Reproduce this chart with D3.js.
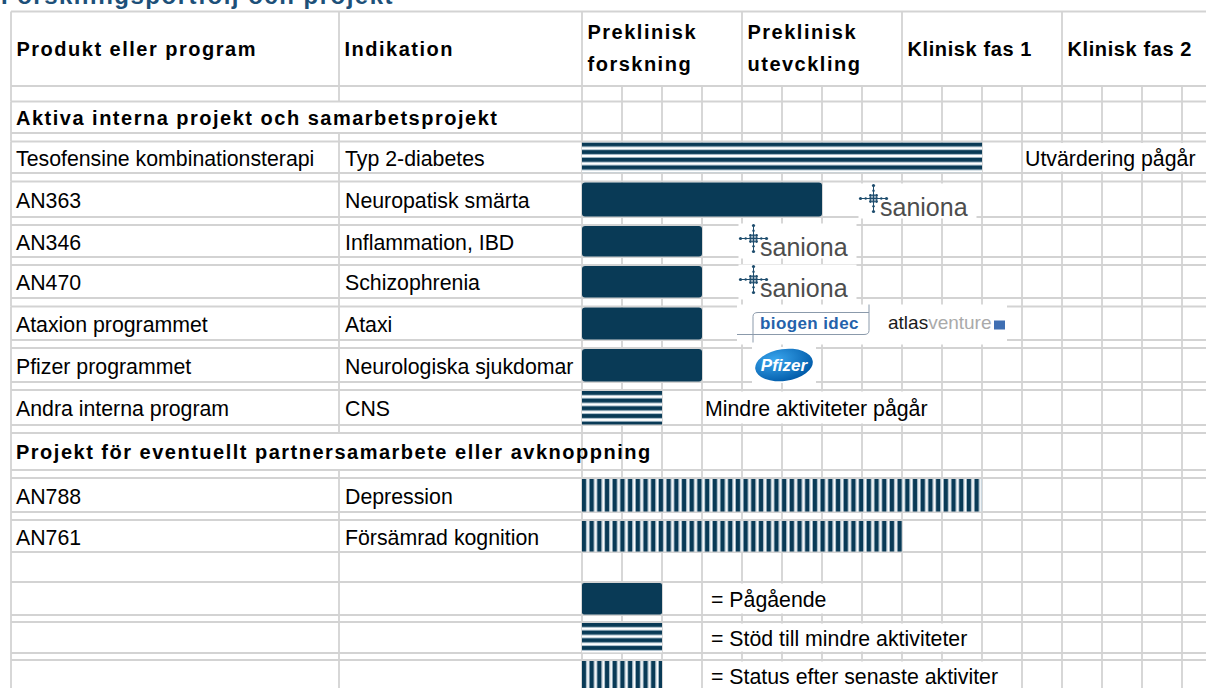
<!DOCTYPE html>
<html>
<head>
<meta charset="utf-8">
<script src="https://cdn.jsdelivr.net/npm/d3@7"></script>
<style>
  body { margin: 0; background: #fff; overflow: hidden; }
  text { font-family: "Liberation Sans", Arial, sans-serif; }
</style>
</head>
<body>
<div id="chart"></div>
<script>
// ---- data ----
const title = "Forskningsportfölj och projekt";
const colHeaders = ["Produkt eller program", "Indikation"];
const phaseLabels = [["Preklinisk", "forskning"], ["Preklinisk", "utevckling"], ["Klinisk fas 1"], ["Klinisk fas 2"]];
const sectionTitles = ["Aktiva interna projekt och samarbetsprojekt",
                       "Projekt för eventuellt partnersamarbete eller avknoppning"];
const products = ["Tesofensine kombinationsterapi", "AN363", "AN346", "AN470", "Ataxion programmet",
                  "Pfizer programmet", "Andra interna program", "AN788", "AN761"];
const indications = ["Typ 2-diabetes", "Neuropatisk smärta", "Inflammation, IBD", "Schizophrenia", "Ataxi",
                     "Neurologiska sjukdomar", "CNS", "Depression", "Försämrad kognition"];
const productSection = [0, 0, 0, 0, 0, 0, 0, 1, 1];
// progress in quarter-phase steps (4 steps = one phase)
const progress = [10, 6, 3, 3, 3, 3, 2, 10, 8];
const barType = ["stod", "pagaende", "pagaende", "pagaende", "pagaende", "pagaende", "stod", "status", "status"];
const noteProducts = ["Tesofensine kombinationsterapi", "Andra interna program"];
const noteTexts = ["Utvärdering pågår", "Mindre aktiviteter pågår"];
const noteStart = [11, 3];
const partnerProducts = ["AN363", "AN346", "AN470", "Ataxion programmet", "Pfizer programmet"];
const partnerNames = ["saniona", "saniona", "saniona", "biogen", "pfizer"];
const partnerStart = [7, 4, 4, 4, 4];
const legendTypes = ["pagaende", "stod", "status"];
const legendLabels = ["=  Pågående", "=  Stöd till mindre aktiviteter", "=  Status efter senaste aktiviter"];
const legendSpan = 2;

// ---- layout ----
const W = 1206, H = 688;
const navy = "#093a56", gridCol = "#d3d3d3";
const tableTop = 11.5, col1 = 11, col2 = 339, col3 = 582;
// main row heights / spacer heights, in row order
const rowH = [74.5, 31.5, 31.5, 35.5, 32, 33, 33.5, 34, 35, 37, 34, 32, 30, 33, 31, 30];
const gapH = [15.5, 8.5, 8.5, 8, 8, 8.5, 8, 8, 8, 8, 8, 0, 0, 7, 7, 0];

// build row list
const rows = [{ id: "header", kind: "header" }];
sectionTitles.forEach((s, si) => {
  rows.push({ id: "sec" + si, kind: "section", label: s });
  products.forEach((p, i) => {
    if (productSection[i] === si) rows.push({ id: p, kind: "product", i: i });
  });
});
rows.push({ id: "blank", kind: "blank" });
legendTypes.forEach((t, i) => rows.push({ id: "legend" + i, kind: "legend", i: i }));

let acc = tableTop;
rows.forEach((r, k) => {
  r.top = acc; r.h = rowH[k]; r.gap = gapH[k];
  acc += r.h + r.gap;
});

const y = d3.scaleOrdinal().domain(rows.map(r => r.id)).range(rows.map(r => r.top));
const rowOf = id => rows.find(r => r.id === id);
const x = d3.scaleLinear().domain([0, 16]).range([col3, col3 + 640]);

const svg = d3.select("#chart").append("svg").attr("width", W).attr("height", H);
const defs = svg.append("defs");

// title (mostly cut off above the table, as in the original)
svg.append("text").attr("x", 1).attr("y", 4)
  .style("font-size", "24px").style("font-weight", "bold").style("letter-spacing", "1.5px")
  .attr("fill", "#1d5079").text(title);

// ---- grid ----
const grid = svg.append("g").attr("stroke", gridCol).attr("stroke-width", 1.8);
const ticks = d3.range(0, 17);
rows.forEach(r => {
  const segs = [{ y0: r.top, y1: r.top + r.h + (r.id === "legend2" ? 10 : 0), main: true }];
  if (r.gap > 0) segs.push({ y0: r.top + r.h, y1: r.top + r.h + r.gap, main: false });
  segs.forEach(s => {
    const xs = [col1];
    if (!(s.main && r.kind === "section")) xs.push(col2);
    ticks.forEach(k => {
      if (s.main && r.kind === "header" && k % 4 !== 0) return;
      xs.push(x(k));
    });
    grid.selectAll(null).data(xs).enter().append("line")
      .attr("x1", d => d).attr("x2", d => d).attr("y1", s.y0).attr("y2", s.y1);
  });
});
const hLines = [tableTop];
rows.forEach(r => {
  if (r.id === "legend2") return;
  hLines.push(r.top + r.h);
  if (r.gap > 0) hLines.push(r.top + r.h + r.gap);
});
grid.selectAll(null).data(hLines).enter().append("line")
  .attr("x1", col1).attr("x2", W).attr("y1", d => d).attr("y2", d => d);

// ---- patterns ----
function fillFor(type, r, key) {
  if (type === "pagaende") return navy;
  const id = "pat-" + key;
  const p = defs.append("pattern").attr("id", id).attr("patternUnits", "userSpaceOnUse");
  if (type === "stod") {
    p.attr("x", 0).attr("y", r.top + 1).attr("width", 20).attr("height", 7.7);
    p.append("rect").attr("width", 20).attr("height", 7.7).attr("fill", "#fff");
    p.append("rect").attr("width", 20).attr("height", 3.8).attr("fill", navy);
    p.append("rect").attr("y", 3.8).attr("width", 20).attr("height", 0.9).attr("fill", "#9db4c3");
    p.append("rect").attr("y", 6.8).attr("width", 20).attr("height", 0.9).attr("fill", "#9db4c3");
  } else {
    p.attr("x", x(0)).attr("y", 0).attr("width", 7.7).attr("height", 20);
    p.append("rect").attr("width", 7.7).attr("height", 20).attr("fill", "#fff");
    p.append("rect").attr("width", 4.2).attr("height", 20).attr("fill", navy);
    p.append("rect").attr("x", 4.2).attr("width", 0.9).attr("height", 20).attr("fill", "#9db4c3");
    p.append("rect").attr("x", 6.8).attr("width", 0.9).attr("height", 20).attr("fill", "#9db4c3");
  }
  return "url(#" + id + ")";
}

// ---- bars ----
const barG = svg.append("g");
products.forEach((p, i) => {
  const r = rowOf(p);
  barG.append("rect")
    .attr("x", x(0)).attr("y", y(p) + 1)
    .attr("width", x(progress[i]) - x(0)).attr("height", r.h - 1.5)
    .attr("rx", barType[i] === "pagaende" ? 3 : 0)
    .attr("fill", fillFor(barType[i], r, "p" + i));
});
legendTypes.forEach((t, i) => {
  const r = rowOf("legend" + i);
  barG.append("rect")
    .attr("x", x(0)).attr("y", r.top + 1)
    .attr("width", x(legendSpan) - x(0)).attr("height", i === 2 ? H - r.top : r.h - 1.5)
    .attr("rx", t === "pagaende" ? 2 : 0)
    .attr("fill", fillFor(t, r, "l" + i));
});

// ---- text ----
const txt = svg.append("g").attr("fill", "#000");
const boldStyle = s => s.style("font-size", "20px").style("font-weight", "bold").style("letter-spacing", "1.5px");
const regStyle = s => s.style("font-size", "21.3px");
const base = r => r.top + r.h / 2 + 8.5;

const hdr = rowOf("header");
colHeaders.forEach((c, i) => {
  txt.append("text").attr("x", [col1, col2][i] + 5.5).attr("y", hdr.top + hdr.h / 2 + 7)
    .call(boldStyle).text(c);
});
phaseLabels.forEach((lines, i) => {
  const t = txt.append("text").attr("x", x(i * 4) + 5.5).call(boldStyle);
  if (lines.length === 1) {
    t.attr("y", hdr.top + hdr.h / 2 + 7).style("letter-spacing", "0.6px").text(lines[0]);
  } else {
    lines.forEach((l, j) => t.append("tspan").attr("x", x(i * 4) + 5.5)
      .attr("y", hdr.top + 27.5 + j * 32).text(l));
  }
});
rows.filter(r => r.kind === "section").forEach(r => {
  txt.append("text").attr("x", col1 + 5).attr("y", base(r) - 1).call(boldStyle).text(r.label);
});
products.forEach((p, i) => {
  const r = rowOf(p);
  txt.append("text").attr("x", col1 + 5).attr("y", base(r)).call(regStyle).text(p);
  txt.append("text").attr("x", col2 + 6).attr("y", base(r)).call(regStyle).text(indications[i]);
});

// notes with white cell backgrounds
function boxedText(r, x0, label, pad) {
  const g = svg.append("g");
  const bg = g.append("rect").attr("fill", "#fff");
  const t = g.append("text").attr("x", x0 + pad).attr("y", base(r)).call(regStyle).text(label);
  const w = t.node().getComputedTextLength();
  bg.attr("x", x0 + 1).attr("y", r.top + 1.5).attr("width", w + pad + 5).attr("height", r.h - 3);
}
noteProducts.forEach((p, i) => boxedText(rowOf(p), x(noteStart[i]), noteTexts[i], 3));
legendLabels.forEach((l, i) => boxedText(rowOf("legend" + i), x(legendSpan + 1), l, 9));

// ---- partner logos ----
function saniona(g, x0, bl) {
  const cx = x0 - 6.5, cy = bl - 17.5;
  g.append("rect").attr("x", cx - 15).attr("y", cy - 15).attr("width", 118).attr("height", 35).attr("fill", "#fff");
  const ic = g.append("g").attr("fill", "#1e4d6e").attr("stroke", "#1e4d6e");
  [[-13, 0], [13, 0], [0, -13], [0, 13]].forEach(([dx, dy]) => {
    ic.append("line").attr("x1", cx).attr("y1", cy).attr("x2", cx + dx).attr("y2", cy + dy).attr("stroke-width", 1);
    ic.append("circle").attr("cx", cx + dx).attr("cy", cy + dy).attr("r", 1.6).attr("stroke", "none");
    ic.append("circle").attr("cx", cx + dx * 0.6).attr("cy", cy + dy * 0.6).attr("r", 1.2).attr("stroke", "none");
  });
  d3.range(-1, 2).forEach(a => d3.range(-1, 2).forEach(b => {
    ic.append("circle").attr("cx", cx + a * 3).attr("cy", cy + b * 3).attr("r", 1.4).attr("stroke", "none");
  }));
  g.append("text").attr("x", x0).attr("y", bl).style("font-size", "25px").attr("fill", "#4d4d4d").text("saniona");
}
function biogen(g, x0, r) {
  const t0 = r.top - 2;
  g.append("rect").attr("x", x0 - 3).attr("y", t0).attr("width", 270).attr("height", 40).attr("fill", "#fff");
  g.append("path").attr("fill", "none").attr("stroke", "#8b9aab").attr("stroke-width", 1)
    .attr("d", `M${x0 + 13},${t0 + 38} V${t0 + 12} Q${x0 + 13},${t0 + 8} ${x0 + 18},${t0 + 8} H${x0 + 129}
                M${x0 + 129},${t0} V${t0 + 26} Q${x0 + 129},${t0 + 30} ${x0 + 124},${t0 + 30} H${x0 - 3}`);
  g.append("text").attr("x", x0 + 20).attr("y", t0 + 24)
    .style("font-size", "17px").style("font-weight", "bold").style("letter-spacing", "0.4px")
    .attr("fill", "#2462ab").text("biogen idec");
  const at = g.append("text").attr("x", x0 + 148).attr("y", t0 + 24).style("font-size", "19px");
  at.append("tspan").attr("fill", "#1a1a1a").text("atlas");
  at.append("tspan").attr("fill", "#aaaaaa").text("venture");
  g.append("rect").attr("x", x0 + 254).attr("y", t0 + 16).attr("width", 11).attr("height", 9).attr("fill", "#3f6fb3");
}
function pfizer(g, cx, cy) {
  const gr = defs.append("radialGradient").attr("id", "pfz").attr("cx", "35%").attr("cy", "30%").attr("r", "75%");
  gr.append("stop").attr("offset", "0%").attr("stop-color", "#3aa6ee");
  gr.append("stop").attr("offset", "100%").attr("stop-color", "#005aa8");
  g.append("rect").attr("x", cx - 32).attr("y", cy - 18).attr("width", 64).attr("height", 36).attr("fill", "#fff");
  g.append("ellipse").attr("cx", cx).attr("cy", cy).attr("rx", 29).attr("ry", 16)
    .attr("transform", `rotate(-8,${cx},${cy})`).attr("fill", "url(#pfz)");
  g.append("text").attr("x", cx).attr("y", cy + 6).attr("text-anchor", "middle")
    .style("font-size", "17px").style("font-weight", "bold").style("font-style", "italic")
    .attr("fill", "#fff").text("Pfizer");
}
const logoG = svg.append("g");
partnerProducts.forEach((p, i) => {
  const r = rowOf(p);
  const g = logoG.append("g");
  const x0 = x(partnerStart[i]);
  if (partnerNames[i] === "saniona") saniona(g, x0 + 18, r.top + r.h - 1);
  else if (partnerNames[i] === "biogen") biogen(g, x0 - 2, r);
  else pfizer(g, x0 + 42, r.top + r.h / 2);
});
</script>
</body>
</html>
